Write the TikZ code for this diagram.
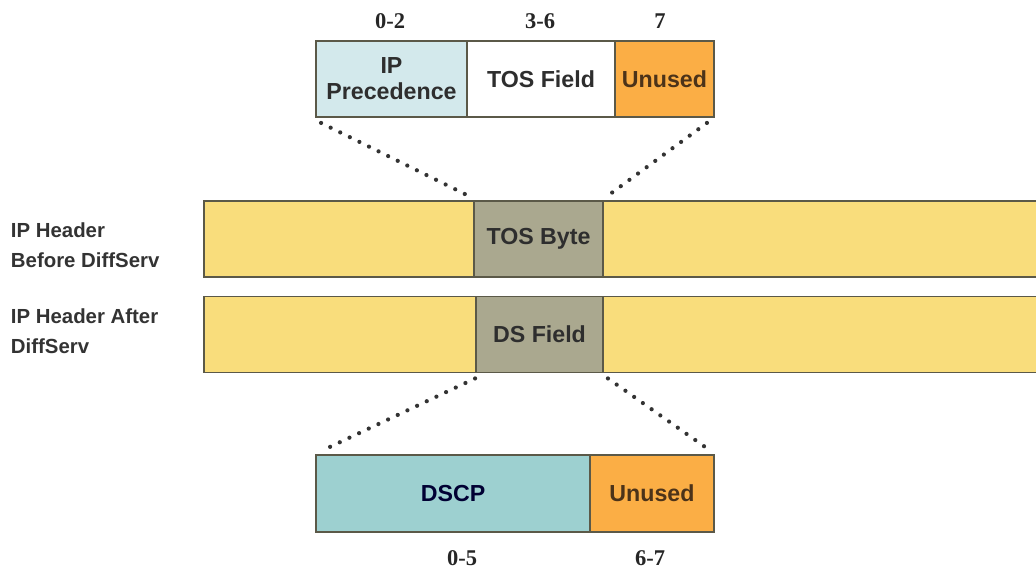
\documentclass[tikz,border=0pt]{standalone}
\usepackage{fontspec}
\setmainfont{Liberation Serif}
\setsansfont{Liberation Sans}
\usetikzlibrary{positioning, calc}

\definecolor{hdryellow}{HTML}{F9DD7C}
\definecolor{tosgray}{HTML}{AAA88F}
\definecolor{precblue}{HTML}{D3E9EC}
\definecolor{unusedorange}{HTML}{FBAE45}
\definecolor{dscpteal}{HTML}{9DD0D0}
\definecolor{edgecol}{HTML}{5B5948}

\tikzset{
    field/.style={draw=edgecol, line width=1.3pt, minimum height=1.9cm, inner sep=0pt,
        align=center, font=\sffamily\bfseries\fontsize{16.5}{18.5}\selectfont, text=black!82},
    bitnum/.style={font=\rmfamily\bfseries\fontsize{16}{18}\selectfont, text=black!85},
    rowlabel/.style={anchor=west, align=left, font=\sffamily\bfseries\fontsize{14.5}{21}\selectfont, text=black!80},
    zoomline/.style={line width=3pt, line cap=round, dash pattern=on 0pt off 7.6pt, black!80}
}

\begin{document}
\begin{tikzpicture}[x=0.025cm, y=-0.025cm]
        % page frame
        \useasboundingbox (0,0) rectangle (1036,575);

        % the TOS byte, before DiffServ
        \node[field, fill=precblue, minimum width=3.775cm] (prec) at (391.5,79) {IP\\Precedence};
        \node[field, fill=white, minimum width=3.7cm] (tosfield) at (541,79) {TOS Field};
        \node[field, fill=unusedorange, minimum width=2.475cm, text=brown!40!black] (unusedA) at (664.5,79) {Unused};

        \node[bitnum] (bitsA) at (390,21) {0-2};
        \node[bitnum] (bitsB) at (540,21) {3-6};
        \node[bitnum] (bitsC) at (660,21) {7};

        % the two IP headers
        \node[field, fill=hdryellow, minimum width=6.75cm] (hdrAleft) at (339,239) {};
        \node[field, fill=tosgray, minimum width=3.225cm] (tosbyte) at (538.5,239) {TOS Byte};
        \node[field, fill=hdryellow, minimum width=11cm] (hdrAright) at (823,239) {};

        \node[field, fill=hdryellow, minimum width=6.8cm] (hdrBleft) at (340,334.5) {};
        \node[field, fill=tosgray, minimum width=3.175cm] (dsfield) at (539.5,334.5) {DS Field};
        \node[field, fill=hdryellow, minimum width=11cm] (hdrBright) at (823,334.5) {};

        \node[rowlabel] (lblA) at (6,245) {IP Header\\Before DiffServ};
        \node[rowlabel] (lblB) at (6,331) {IP Header After\\DiffServ};

        % the DS byte, after DiffServ
        \node[field, fill=dscpteal, minimum width=6.85cm, minimum height=1.925cm, text=blue!20!black] (dscp) at (453,493.5) {DSCP};
        \node[field, fill=unusedorange, minimum width=3.1cm, minimum height=1.925cm, text=brown!40!black] (unusedB) at (652,493.5) {Unused};

        \node[bitnum] (bitsD) at (462,558) {0-5};
        \node[bitnum] (bitsE) at (650,558) {6-7};

        % zoom lines
        \draw[zoomline] ($(prec.south west)+(6,5)$) -- ($(tosbyte.north west)+(-2,-3)$);
        \draw[zoomline] ($(unusedA.south east)+(-8,5)$) -- ($(tosbyte.north east)+(2,-3)$);
        \draw[zoomline] ($(dsfield.south west)+(0,5)$) -- ($(dscp.north west)+(6,-3)$);
        \draw[zoomline] ($(dsfield.south east)+(4,5)$) -- ($(unusedB.north east)+(-4,-3)$);
    \end{tikzpicture}
\end{document}
